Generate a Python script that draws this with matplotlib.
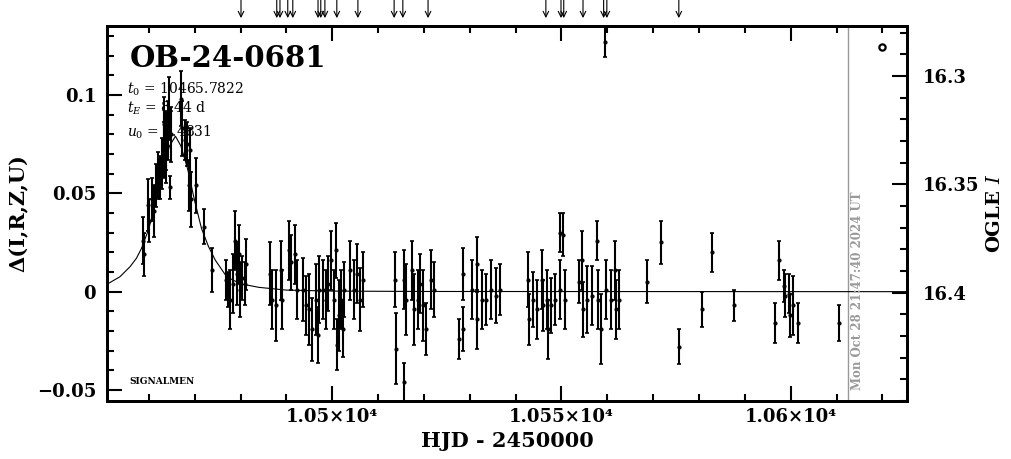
import matplotlib
matplotlib.use("Agg")
import matplotlib.pyplot as plt
from matplotlib.ticker import MultipleLocator

plt.rcParams["font.family"] = ["DejaVu Serif"]
plt.rcParams["mathtext.fontset"] = "dejavuserif"

EVENT = "OB-24-0681"
T0_TEXT = "10465.7822"
TE_TEXT = "8.44 d"
U0_TEXT = "0.4831"
STAMP = "Mon Oct 28 21:47:40 2024 UT"
NOW_HJD = 10612.5

# photometry: HJD-2450000, delta, error
hjd = [
    # peak
    10458.7, 10458.9, 10459.8, 10460.0, 10460.7, 10461.1, 10461.5, 10462.0, 10462.4,
    10462.8, 10463.3, 10463.3, 10463.7, 10463.7, 10464.2, 10464.4, 10464.6, 10464.8,
    10467.0, 10467.2, 10467.9, 10468.3, 10468.7, 10469.0, 10469.2, 10470.3, 10472.0,
    10473.8,
    10476.8, 10477.2, 10477.7, 10478.3, 10478.8, 10479.2, 10479.6, 10479.9, 10480.3,
    10481.0, 10481.2,
    10486.4, 10486.9, 10487.7, 10488.8, 10489.0, 10490.6, 10491.0, 10491.9, 10492.3,
    10493.6, 10494.3, 10494.9, 10495.6, 10496.4, 10496.9, 10497.1, 10497.9, 10498.6,
    10499.1, 10499.7, 10500.4, 10500.8, 10501.1, 10501.5, 10501.9, 10502.4, 10502.6,
    10503.9, 10504.8, 10505.4, 10506.1, 10506.7,
    10513.7, 10513.9, 10515.6, 10515.6, 10516.1, 10517.4, 10517.8, 10518.7, 10519.1,
    10519.8, 10520.4, 10521.5, 10522.2,
    10527.6, 10528.5, 10528.5, 10530.5, 10531.5, 10531.5, 10532.6, 10533.5, 10534.6,
    10535.7, 10536.6,
    10542.7, 10542.9, 10543.8, 10544.7, 10545.8, 10546.0, 10546.9, 10547.1, 10547.7,
    10548.6, 10549.7, 10550.4, 10549.7, 10550.8,
    10553.8, 10554.5, 10554.7, 10555.6, 10556.7, 10557.8, 10558.0, 10558.7, 10559.6,
    10559.8, 10560.9, 10561.7, 10562.0, 10562.6,
    10568.6, 10571.7, 10575.6, 10580.6, 10582.8, 10587.6, 10596.6, 10597.4, 10598.5,
    10598.8, 10599.6, 10599.8, 10600.5, 10601.6, 10610.5,
]
delta = [
    0.026, 0.019, 0.044, 0.036, 0.047, 0.041, 0.054, 0.059, 0.058,
    0.065, 0.072, 0.085, 0.068, 0.077, 0.082, 0.093, 0.053, 0.080,
    0.098, 0.083, 0.077, 0.075, 0.054, 0.072, 0.047, 0.054, 0.033,
    0.011,
    0.006, 0.001, -0.004, 0.004, 0.026, 0.009, 0.019, 0.001, 0.007,
    0.004, 0.014,
    0.009, -0.004, -0.007, 0.011, -0.004, 0.021, 0.015, 0.019, 0.001,
    0.001, -0.007, -0.009, -0.019, -0.004, -0.022, 0.001, 0.001, -0.004,
    0.004, 0.016, -0.004, 0.021, -0.027, -0.012, -0.004, -0.019, 0.001,
    0.011, 0.001, 0.009, -0.004, 0.006,
    0.006, -0.029, -0.046, 0.006, -0.004, 0.011, -0.009, -0.004, 0.004,
    -0.007, -0.019, 0.006, 0.001,
    -0.024, 0.009, -0.019, 0.001, 0.014, -0.014, -0.004, -0.004, 0.001,
    -0.002, 0.001,
    0.006, -0.014, -0.004, -0.009, 0.006, -0.007, -0.004, -0.019, -0.007,
    -0.004, 0.030, 0.029, 0.001, -0.004,
    0.005, 0.016, -0.009, -0.004, -0.002, 0.026, -0.004, -0.019, 0.127,
    0.001, -0.004, 0.011, -0.009, -0.004,
    0.005, 0.025, -0.028, -0.009, 0.020, -0.007, -0.016, 0.016, 0.003,
    -0.002, -0.001, -0.012, -0.007, -0.016, -0.016,
]
err = [
    0.012, 0.011, 0.013, 0.011, 0.011, 0.013, 0.011, 0.012, 0.011,
    0.013, 0.014, 0.014, 0.013, 0.015, 0.015, 0.016, 0.006, 0.014,
    0.014, 0.014, 0.010, 0.011, 0.013, 0.011, 0.014, 0.014, 0.009,
    0.011,
    0.010, 0.009, 0.015, 0.015, 0.015, 0.016, 0.015, 0.014, 0.011,
    0.011, 0.013,
    0.016, 0.015, 0.018, 0.015, 0.015, 0.015, 0.014, 0.015, 0.015,
    0.016, 0.015, 0.018, 0.016, 0.018, 0.014, 0.017, 0.015, 0.015,
    0.014, 0.015, 0.015, 0.014, 0.013, 0.018, 0.015, 0.014, 0.014,
    0.015, 0.015, 0.015, 0.016, 0.014,
    0.014, 0.018, 0.010, 0.015, 0.018, 0.015, 0.018, 0.015, 0.015,
    0.018, 0.013, 0.015, 0.014,
    0.010, 0.013, 0.011, 0.015, 0.014, 0.015, 0.015, 0.013, 0.015,
    0.014, 0.013,
    0.014, 0.013, 0.014, 0.015, 0.015, 0.013, 0.015, 0.015, 0.014,
    0.013, 0.010, 0.011, 0.015, 0.015,
    0.011, 0.015, 0.014, 0.017, 0.015, 0.010, 0.015, 0.018, 0.008,
    0.015, 0.015, 0.015, 0.015, 0.015,
    0.011, 0.011, 0.009, 0.009, 0.010, 0.008, 0.010, 0.010, 0.008,
    0.011, 0.010, 0.011, 0.015, 0.010, 0.009,
]

# model curve
model_hjd = [10450.9, 10453.7, 10455.9, 10457.3, 10458.4, 10460.0, 10461.5, 10463.0,
             10464.5, 10465.8, 10467.0, 10468.5, 10470.0, 10471.5, 10473.0, 10474.5,
             10477.0, 10480.0, 10484.0, 10490.0, 10500.0, 10520.0, 10625.4]
model_delta = [0.0038, 0.0076, 0.0127, 0.017, 0.022, 0.032, 0.046, 0.062,
               0.074, 0.079, 0.074, 0.062, 0.046, 0.032, 0.023, 0.016,
               0.0075, 0.0040, 0.0022, 0.0008, 0.0003, 0.0001, 0.0]

arrow_hjd = [10480.1, 10487.9, 10488.6, 10490.3, 10491.4, 10496.9, 10497.5, 10498.4,
             10501.0, 10505.6, 10513.5, 10515.4, 10520.9, 10546.6, 10549.9, 10550.5,
             10554.7, 10559.2, 10559.9, 10575.6]

ref_hjd = [10619.9]
ref_delta = [0.1243]

fig = plt.figure(figsize=(10.11, 4.59), dpi=100)
ax = fig.add_axes([0.1061, 0.1264, 0.7913, 0.8170])

ax.plot(model_hjd, model_delta, color="black", lw=0.8, zorder=2)
ax.errorbar(hjd, delta, yerr=err, fmt="o", ms=2, color="black", ecolor="black",
            elinewidth=1.5, capsize=1.3, capthick=1.2, zorder=3)
ax.plot(ref_hjd, ref_delta, "o", ms=4.5, mfc="white", mec="black", mew=1.6)
ax.axvline(NOW_HJD, color="#999999", lw=1.0, zorder=1)

ax.set_xlim(10450.93, 10625.43)
ax.set_ylim(-0.05554, 0.1350)

ax.set_xticks([10500, 10550, 10600])
ax.set_xticklabels(["1.05×10⁴", "1.055×10⁴", "1.06×10⁴"])
ax.xaxis.set_minor_locator(MultipleLocator(10))
ax.set_yticks([-0.05, 0, 0.05, 0.1])
ax.set_yticklabels(["\u22120.05", "0", "0.05", "0.1"])
ax.yaxis.set_minor_locator(MultipleLocator(0.01))
ax.tick_params(which="both", direction="in", top=True, right=False, width=1.5,
               labelsize=13)
ax.tick_params(which="major", length=10.5)
ax.tick_params(which="minor", length=5)
ax.tick_params(axis="y", pad=8)
ax.tick_params(axis="x", pad=5)
for lab in ax.get_xticklabels() + ax.get_yticklabels():
    lab.set_fontweight("bold")
for sp in ax.spines.values():
    sp.set_linewidth(2)

ax.set_xlabel("HJD - 2450000", fontsize=15, fontweight="bold", labelpad=4)
ax.set_ylabel("\u0394(I,R,Z,U)", fontsize=15, fontweight="bold", labelpad=6)

ax2 = ax.twinx()
ax2.set_ylim(16.4500, 16.2769)
ax2.set_yticks([16.3, 16.35, 16.4])
ax2.set_yticklabels(["16.3", "16.35", "16.4"])
ax2.yaxis.set_minor_locator(MultipleLocator(0.01))
ax2.tick_params(which="both", direction="in", width=1.5, labelsize=13, pad=11)
ax2.tick_params(which="major", length=10.5)
ax2.tick_params(which="minor", length=5)
for lab in ax2.get_yticklabels():
    lab.set_fontweight("bold")
for sp in ax2.spines.values():
    sp.set_linewidth(2)
ax2.set_ylabel("OGLE $\\mathit{I}$", fontsize=14, fontweight="bold", labelpad=5)

ax.text(0.028, 0.891, EVENT, transform=ax.transAxes, fontsize=21, fontweight="bold",
        va="baseline")
ax.text(0.0246, 0.821, "$t_0$ = " + T0_TEXT, transform=ax.transAxes, fontsize=10,
        va="baseline")
ax.text(0.0246, 0.768, "$t_E$ = " + TE_TEXT, transform=ax.transAxes, fontsize=10,
        va="baseline")
ax.text(0.0246, 0.704, "$u_0$ = " + U0_TEXT, transform=ax.transAxes, fontsize=10,
        va="baseline")
ax.text(0.028, 0.046, "SIGNALMEN", transform=ax.transAxes, fontsize=6.5,
        fontweight="bold", va="baseline")
ax.text(NOW_HJD + 0.7, 0.03, STAMP, transform=ax.get_xaxis_transform(), rotation=90,
        fontsize=8.5, fontweight="bold", color="#999999", ha="left", va="bottom")

for t in arrow_hjd:
    ax.annotate("", xy=(t, 1.021), xycoords=ax.get_xaxis_transform(),
                xytext=(t, 1.07), textcoords=ax.get_xaxis_transform(),
                arrowprops=dict(arrowstyle="->", lw=0.8, color="black",
                                shrinkA=0, shrinkB=0),
                annotation_clip=False)

fig.savefig("out.png", dpi=100)
